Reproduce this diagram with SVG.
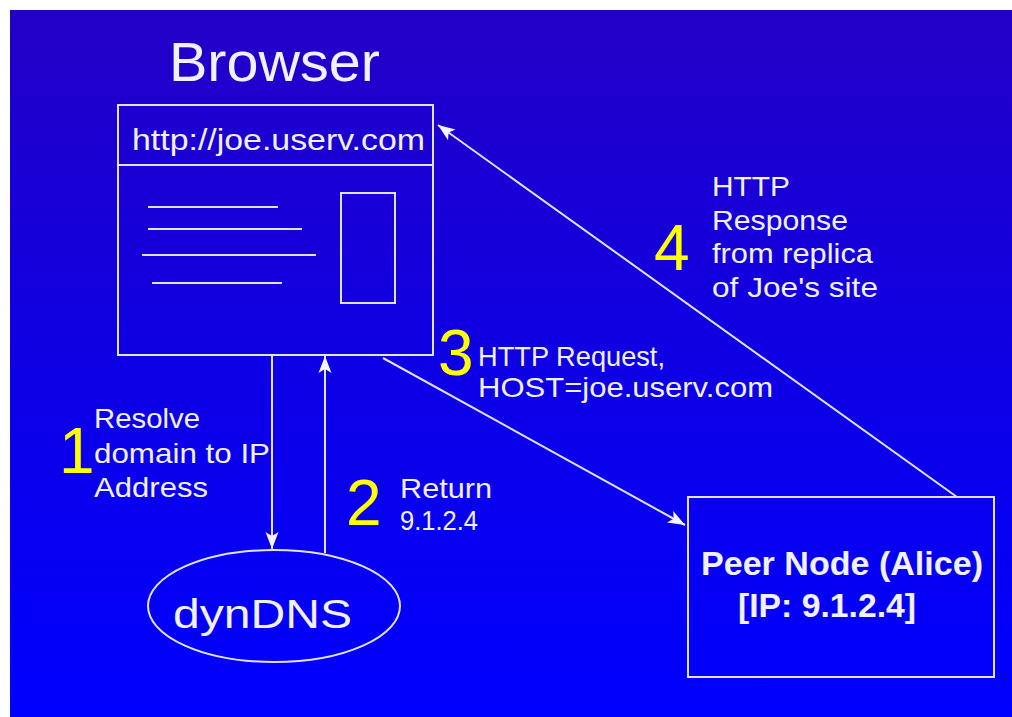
<svg xmlns="http://www.w3.org/2000/svg" width="1012" height="717" viewBox="0 0 1012 717">
<defs>
<linearGradient id="bg" x1="0" y1="0" x2="0" y2="1">
<stop offset="0" stop-color="#2400C6"/>
<stop offset="0.5" stop-color="#0E00E4"/>
<stop offset="1" stop-color="#0000FF"/>
</linearGradient>
<marker id="arr" markerUnits="userSpaceOnUse" markerWidth="22" markerHeight="18" viewBox="-19 -9 22 18" refX="0" refY="0" orient="auto">
<path d="M0,0 L-17,-6.5 L-13,0 L-17,6.5 Z" fill="#F4F4FF"/>
</marker>
<style>
.ln{stroke:#E2E2FF;stroke-width:2;fill:none}
.t{font-family:"Liberation Sans",Arial,sans-serif;fill:#F0F0FF}
.s{font-size:28px}
.n{font-family:"Liberation Sans",Arial,sans-serif;fill:#FFFF00;font-size:64px}
</style>
</defs>
<rect x="0" y="0" width="1012" height="717" fill="#FFFFFF"/>
<rect x="10" y="10" width="1002" height="707" fill="url(#bg)"/>

<g id="browser">
<text class="t" x="169" y="81" font-size="56" textLength="211" lengthAdjust="spacingAndGlyphs">Browser</text>
<rect class="ln" x="118" y="105" width="315" height="250"/>
<line class="ln" x1="118" y1="165" x2="433" y2="165"/>
<text class="t" x="132" y="150" font-size="30" textLength="293" lengthAdjust="spacingAndGlyphs">http://joe.userv.com</text>
<line class="ln" x1="148" y1="207" x2="278" y2="207"/>
<line class="ln" x1="148" y1="229" x2="302" y2="229"/>
<line class="ln" x1="142" y1="255" x2="316" y2="255"/>
<line class="ln" x1="152" y1="283" x2="282" y2="283"/>
<rect class="ln" x="341" y="193" width="54" height="110"/>
</g>

<g id="dyndns">
<ellipse class="ln" cx="274" cy="606" rx="126" ry="56"/>
<text class="t" x="173" y="628" font-size="40" textLength="179" lengthAdjust="spacingAndGlyphs">dynDNS</text>
</g>

<g id="peer">
<rect class="ln" x="688" y="497" width="306" height="180"/>
<text class="t" x="701" y="575" font-size="33" font-weight="bold" textLength="282" lengthAdjust="spacingAndGlyphs">Peer Node (Alice)</text>
<text class="t" x="738" y="617" font-size="33" font-weight="bold" textLength="178" lengthAdjust="spacingAndGlyphs">[IP: 9.1.2.4]</text>
</g>

<g id="connectors">
<line class="ln" x1="272" y1="355" x2="272" y2="549" marker-end="url(#arr)"/>
<line class="ln" x1="325" y1="553" x2="325" y2="356" marker-end="url(#arr)"/>
<line class="ln" x1="383" y1="358" x2="685" y2="525" marker-end="url(#arr)"/>
<line class="ln" x1="957" y1="497" x2="438" y2="125" marker-end="url(#arr)"/>
</g>

<g id="labels">
<text class="n" x="59" y="473">1</text>
<text class="t s" x="94" y="428" textLength="106" lengthAdjust="spacingAndGlyphs">Resolve</text>
<text class="t s" x="94" y="463" textLength="176" lengthAdjust="spacingAndGlyphs">domain to IP</text>
<text class="t s" x="94" y="497" textLength="114" lengthAdjust="spacingAndGlyphs">Address</text>

<text class="n" x="346" y="525">2</text>
<text class="t s" x="400" y="498" textLength="92" lengthAdjust="spacingAndGlyphs">Return</text>
<text class="t s" x="400" y="530" textLength="78" lengthAdjust="spacingAndGlyphs">9.1.2.4</text>

<text class="n" x="438" y="375">3</text>
<text class="t s" x="478" y="366" textLength="187" lengthAdjust="spacingAndGlyphs">HTTP Request,</text>
<text class="t s" x="478" y="397" textLength="295" lengthAdjust="spacingAndGlyphs">HOST=joe.userv.com</text>

<text class="n" x="654" y="270">4</text>
<text class="t s" x="712" y="196" textLength="78" lengthAdjust="spacingAndGlyphs">HTTP</text>
<text class="t s" x="712" y="230" textLength="136" lengthAdjust="spacingAndGlyphs">Response</text>
<text class="t s" x="712" y="263" textLength="161" lengthAdjust="spacingAndGlyphs">from replica</text>
<text class="t s" x="712" y="297" textLength="166" lengthAdjust="spacingAndGlyphs">of Joe's site</text>
</g>
</svg>
